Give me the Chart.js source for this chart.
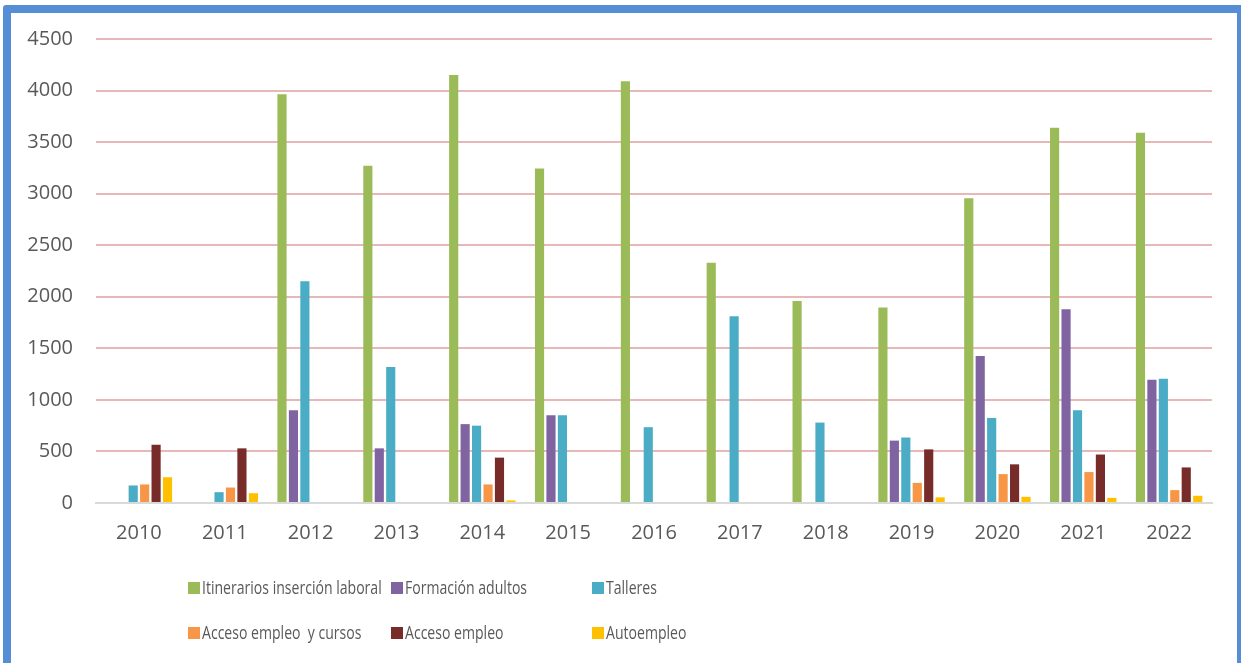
<!DOCTYPE html>
<html>
<head>
<meta charset="utf-8">
<script src="https://cdn.jsdelivr.net/npm/chart.js@4/dist/chart.umd.min.js"></script>
<style>
  html, body { margin: 0; padding: 0; background: #fff; overflow: hidden; }
  #wrap { position: relative; width: 1241px; height: 663px; }
  #frame {
    position: absolute; left: 3px; top: 5px; width: 1226px; height: 700px;
    border: 8px solid #558ED5; border-radius: 3px; pointer-events: none;
  }
  canvas { position: absolute; left: 0; top: 0; }
  .lg { position: absolute; font-family: "Open Sans", sans-serif; font-size: 19px; color: #595959;
        white-space: nowrap; line-height: 20px; }
  .lg i { display: inline-block; width: 12px; height: 12px; margin-right: 2px; vertical-align: 0px; }
  .lg span { display: inline-block; transform: scaleX(0.74); transform-origin: left center; }
</style>
</head>
<body>
<div id="wrap">
  <canvas id="c" width="1241" height="663"></canvas>
  <div id="frame"></div>
  <div id="legend"></div>
</div>
<script>
// years along the x axis
const YEARS = ['2010', '2011', '2012', '2013', '2014', '2015', '2016',
  '2017', '2018', '2019', '2020', '2021', '2022'];

// one array per programme (null = no bar)
const ITINERARIOS = [null, null, 3965, 3270, 4150, 3245, 4090, 2330, 1960, 1895, 2955, 3640, 3590];
const FORMACION   = [null, null, 900, 530, 765, 850, null, null, null, 605, 1425, 1880, 1195];
const TALLERES    = [170, 105, 2150, 1320, 750, 850, 735, 1810, 780, 635, 825, 900, 1205];
const CURSOS      = [180, 150, null, null, 180, null, null, null, null, 195, 280, 300, 125];
const ACCESO      = [565, 530, null, null, 440, null, null, null, null, 520, 375, 470, 345];
const AUTOEMPLEO  = [250, 95, null, null, 25, null, null, null, null, 55, 60, 50, 70];

const SERIES = [
  { label: 'Itinerarios inserción laboral', data: ITINERARIOS, colour: '#9BBB59' },
  { label: 'Formación adultos', data: FORMACION, colour: '#8064A2' },
  { label: 'Talleres', data: TALLERES, colour: '#4BACC6' },
  { label: 'Acceso empleo  y cursos', data: CURSOS, colour: '#F79646' },
  { label: 'Acceso empleo', data: ACCESO, colour: '#772C2A' },
  { label: 'Autoempleo', data: AUTOEMPLEO, colour: '#FFC000' },
];

const TEXT = '#595959';
const FONT = { family: '"Open Sans", sans-serif', size: 20 };

new Chart(document.getElementById('c'), {
  type: 'bar',
  data: {
    labels: YEARS,
    datasets: SERIES.map((s) => ({
      label: s.label,
      data: s.data,
      backgroundColor: s.colour,
      borderWidth: 0,
      categoryPercentage: 0.8,
      barPercentage: 0.8,
    })),
  },
  options: {
    responsive: false,
    animation: false,
    layout: { padding: { left: 20, right: 29, top: 39, bottom: 0 } },
    plugins: { legend: { display: false }, tooltip: { enabled: false } },
    scales: {
      x: {
        grid: { display: false, drawTicks: false },
        border: { color: '#D9D9D9', width: 2 },
        ticks: { color: TEXT, font: FONT, padding: 18, maxRotation: 0 },
        afterFit: (s) => { s.height = 160; },
      },
      y: {
        min: 0,
        max: 4500,
        ticks: { stepSize: 500, color: TEXT, font: FONT, padding: 23, callback: (v) => String(v) },
        grid: { color: '#E6B9B8', lineWidth: 2, drawTicks: false },
        border: { display: false },
        afterFit: (s) => { s.width = 76; },
      },
    },
  },
});

// legend laid out like the original: three columns, two rows
const COLS = [188, 391, 592];
const ROWS = [577, 622];
const legend = document.getElementById('legend');
SERIES.forEach((s, i) => {
  const d = document.createElement('div');
  d.className = 'lg';
  d.style.left = COLS[i % 3] + 'px';
  d.style.top = ROWS[Math.floor(i / 3)] + 'px';
  d.innerHTML = '<i style="background:' + s.colour + '"></i><span>' + s.label.replace(/  /g, ' \u00a0') + '</span>';
  legend.appendChild(d);
});
</script>
</body>
</html>
